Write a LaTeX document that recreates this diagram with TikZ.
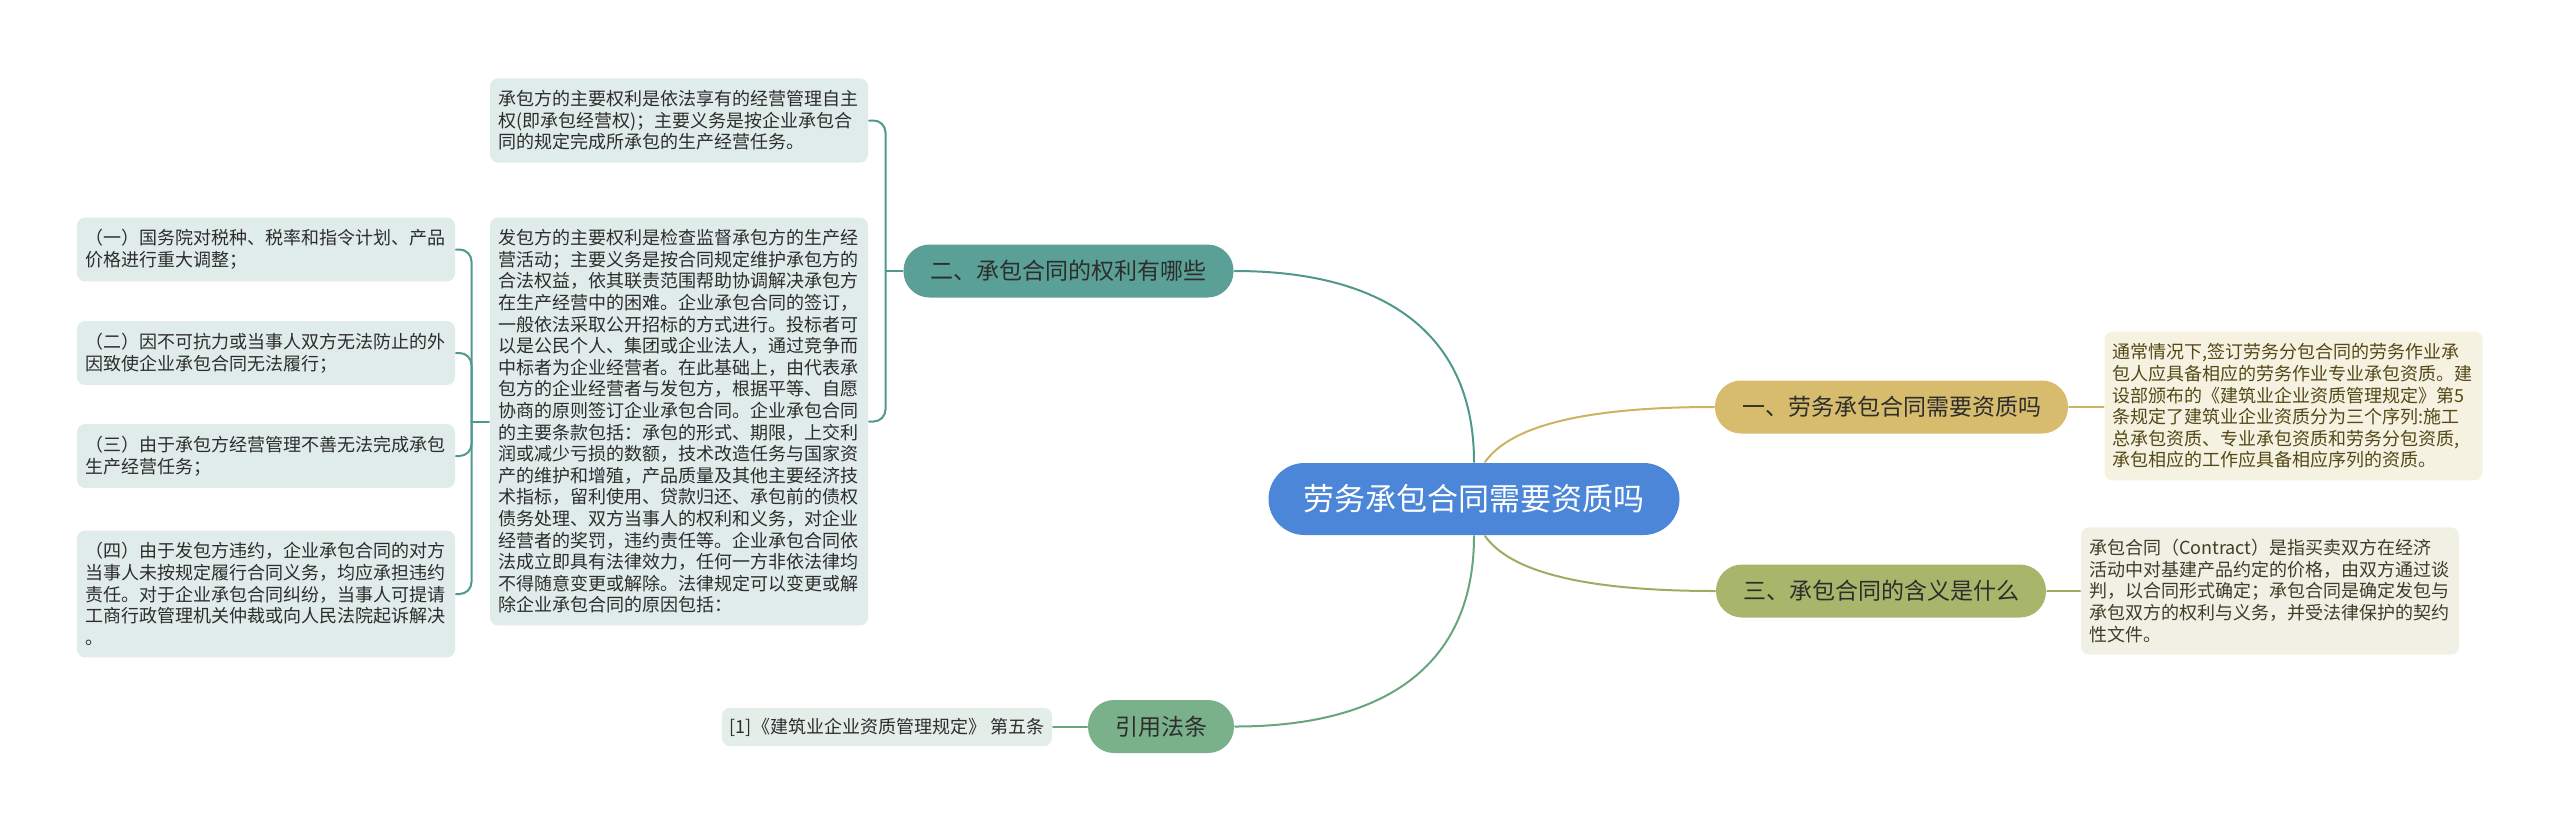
\documentclass[tikz,border=0pt]{standalone}
\usepackage{fontspec}
\newfontfamily\cjk{Noto Sans CJK SC}
\usetikzlibrary{calc}

\definecolor{rootblue}{RGB}{76,134,216}
\definecolor{tealfill}{RGB}{90,160,150}
\definecolor{tealline}{RGB}{80,152,140}
\definecolor{goldfill}{RGB}{214,188,108}
\definecolor{goldline}{RGB}{205,178,98}
\definecolor{olivefill}{RGB}{168,182,108}
\definecolor{oliveline}{RGB}{158,172,96}
\definecolor{greenfill}{RGB}{122,176,138}
\definecolor{greenline}{RGB}{104,164,124}
\definecolor{tealbox}{RGB}{223,236,233}
\definecolor{goldbox}{RGB}{246,242,226}
\definecolor{olivebox}{RGB}{240,241,228}
\definecolor{greenbox}{RGB}{228,238,232}
\definecolor{inkdark}{RGB}{45,45,45}
\definecolor{inkgold}{RGB}{84,72,22}
\definecolor{inkolive}{RGB}{62,62,40}

\begin{document}
\begin{tikzpicture}[x=1pt, y=-1pt, line width=2pt, line cap=round,
  topic/.style={rounded corners=26pt, minimum height=53pt, inner xsep=27pt, inner ysep=0pt,
    font=\cjk\fontsize{23}{28}\selectfont, text=inkdark},
  note/.style={rounded corners=8pt, inner xsep=8pt, inner ysep=12pt, align=left,
    text width=362pt, font=\cjk\fontsize{18}{21.6}\selectfont, text=inkdark}]
  \useasboundingbox (0,0) rectangle (2560,831);

  % centre and main topics
  \node[topic, fill=rootblue, text=white, rounded corners=36pt, minimum height=72pt,
        inner xsep=35pt, font=\cjk\fontsize{31}{36}\selectfont] (root) at (1474,499) {劳务承包合同需要资质吗};
  \node[topic, fill=tealfill]  (b2) at (1068.5,271) {二、承包合同的权利有哪些};
  \node[topic, fill=goldfill]  (b1) at (1891.5,407) {一、劳务承包合同需要资质吗};
  \node[topic, fill=olivefill] (b3) at (1881,591)   {三、承包合同的含义是什么};
  \node[topic, fill=greenfill] (b4) at (1161,726.5) {引用法条};

  % notes
  \node[note, fill=tealbox] (t1) at (679,120.5) {承包方的主要权利是依法享有的经营管理自主\\
    权(即承包经营权)；主要义务是按企业承包合\\
    同的规定完成所承包的生产经营任务。};
  \node[note, fill=tealbox] (t2) at (679,421.5) {发包方的主要权利是检查监督承包方的生产经\\
    营活动；主要义务是按合同规定维护承包方的\\
    合法权益，依其联责范围帮助协调解决承包方\\
    在生产经营中的困难。企业承包合同的签订，\\
    一般依法采取公开招标的方式进行。投标者可\\
    以是公民个人、集团或企业法人，通过竞争而\\
    中标者为企业经营者。在此基础上，由代表承\\
    包方的企业经营者与发包方，根据平等、自愿\\
    协商的原则签订企业承包合同。企业承包合同\\
    的主要条款包括：承包的形式、期限，上交利\\
    润或减少亏损的数额，技术改造任务与国家资\\
    产的维护和增殖，产品质量及其他主要经济技\\
    术指标，留利使用、贷款归还、承包前的债权\\
    债务处理、双方当事人的权利和义务，对企业\\
    经营者的奖罚，违约责任等。企业承包合同依\\
    法成立即具有法律效力，任何一方非依法律均\\
    不得随意变更或解除。法律规定可以变更或解\\
    除企业承包合同的原因包括：};
  \node[note, fill=tealbox] (l1) at (266,249.5) {（一）国务院对税种、税率和指令计划、产品\\
    价格进行重大调整；};
  \node[note, fill=tealbox] (l2) at (266,353) {（二）因不可抗力或当事人双方无法防止的外\\
    因致使企业承包合同无法履行；};
  \node[note, fill=tealbox] (l3) at (266,456) {（三）由于承包方经营管理不善无法完成承包\\
    生产经营任务；};
  \node[note, fill=tealbox] (l4) at (266,594) {（四）由于发包方违约，企业承包合同的对方\\
    当事人未按规定履行合同义务，均应承担违约\\
    责任。对于企业承包合同纠纷，当事人可提请\\
    工商行政管理机关仲裁或向人民法院起诉解决\\
    。};
  \node[note, fill=goldbox, text=inkgold] (r1) at (2293.5,406) {通常情况下,签订劳务分包合同的劳务作业承\\
    包人应具备相应的劳务作业专业承包资质。建\\
    设部颁布的《建筑业企业资质管理规定》第5\\
    条规定了建筑业企业资质分为三个序列:施工\\
    总承包资质、专业承包资质和劳务分包资质,\\
    承包相应的工作应具备相应序列的资质。};
  \node[note, fill=olivebox, text=inkolive] (r2) at (2270,591) {承包合同（Contract）是指买卖双方在经济\\
    活动中对基建产品约定的价格，由双方通过谈\\
    判，以合同形式确定；承包合同是确定发包与\\
    承包双方的权利与义务，并受法律保护的契约\\
    性文件。};
  \node[note, fill=greenbox, text width=, inner ysep=10pt] (cite) at (887,727) {[1]《建筑业企业资质管理规定》 第五条};

  % branch curves
  \coordinate (gold0) at ($(root.north)+(11,0)$);
  \coordinate (olive0) at ($(root.south)+(11,0)$);
  \draw[tealline] (b2.east) .. controls ($(b2.east)+(156,0)$) and ($(root.north)+(0,-124)$) .. (root.north);
  \draw[greenline] (root.south) .. controls ($(root.south)+(0,125)$) and ($(b4.east)+(156,0)$) .. (b4.east);
  \draw[goldline] (gold0) .. controls ($(gold0)+(20,-28)$) and ($(b1.west)+(-155,0)$) .. (b1.west);
  \draw[oliveline] (olive0) .. controls ($(olive0)+(20,28)$) and ($(b3.west)+(-155,0)$) .. (b3.west);

  % brackets
  \coordinate (j2) at ($(b2.west)+(-17,0)$);
  \coordinate (jl) at ($(t2.west)+(-17.5,0)$);
  \draw[tealline] (b2.west) -- (j2);
  \draw[tealline, rounded corners=12pt] (t1.east) -| (j2);
  \draw[tealline, rounded corners=12pt] (t2.east) -| (j2);
  \draw[tealline] (t2.west) -- (jl);
  \foreach \n in {l1,l2,l3,l4}
    \draw[tealline, rounded corners=12pt] (\n.east) -| (jl);

  \draw[goldline] (b1.east) -- (b1.east -| r1.west);
  \draw[oliveline] (b3.east) -- (b3.east -| r2.west);
  \draw[greenline] (cite.east) -- (cite.east -| b4.west);
\end{tikzpicture}
\end{document}
